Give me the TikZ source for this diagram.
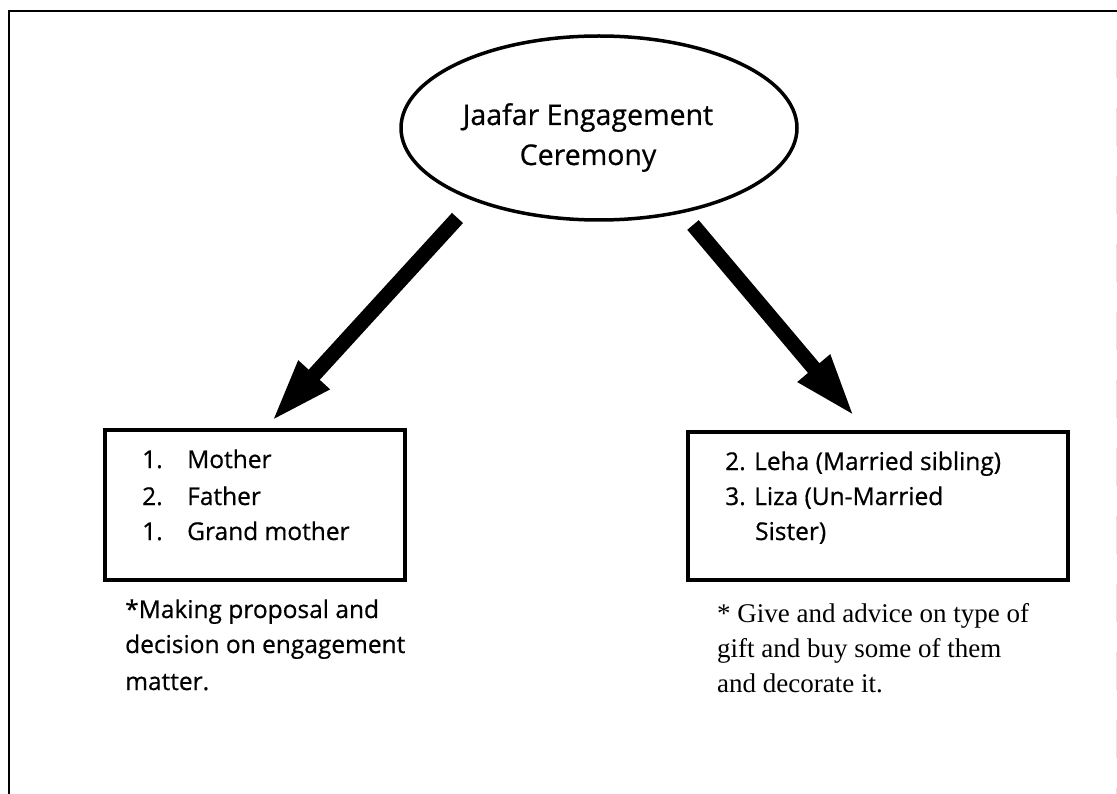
\documentclass[tikz,border=0pt]{standalone}
\usepackage{fontspec}
\setmainfont{Liberation Serif}
\newfontfamily\casual[FakeBold=0.6]{Open Sans}
\usetikzlibrary{shapes.geometric,arrows.meta}
\begin{document}
\begin{tikzpicture}[x=1pt,y=-1pt,
  frame/.style={line width=2.5pt},
  boxline/.style={draw, line width=3.5pt, rectangle, inner sep=0pt},
  bigarrow/.style={line width=15pt, line cap=butt,
    -{Triangle[length=64pt,width=38pt]}},
  title/.style={font=\casual\fontsize{28.5}{34}\selectfont, inner sep=0pt},
  item/.style={font=\casual\fontsize{24.5}{30}\selectfont, inner sep=0pt, anchor=base west},
  note/.style={font=\fontsize{27}{32}\selectfont, inner sep=0pt, anchor=base west}]
\useasboundingbox (0,0) rectangle (1117,794);
\fill[white] (0,0) rectangle (1117,794);

% page frame
\draw[frame] (9,794) -- (9,11) -- (1117,11);
\draw[gray!22, line width=0.8pt, dash pattern=on 38pt off 30pt] (1116,40) -- (1116,794);

% central ellipse
\node[draw, ellipse, line width=3.5pt, minimum width=396pt, minimum height=184pt] (cer) at (599,128) {};
\node[title, anchor=base] (cer1) at (588,125) {Jaafar Engagement};
\node[title, anchor=base] (cer2) at (588,165) {Ceremony};

% boxes
\node[boxline, minimum width=300pt, minimum height=150pt, anchor=north west] (lbox) at (103,428) {};
\node[boxline, minimum width=380pt, minimum height=148pt, anchor=north west] (rbox) at (686,430) {};

% arrows
\coordinate (la) at (457.5,218);
\coordinate (lb) at (271,422);
\coordinate (ra) at (693,225);
\coordinate (rb) at (855,417);
\draw[bigarrow] (la) -- (lb);
\draw[bigarrow] (ra) -- (rb);

% left list
\node[item] (n1) at (142,468) {1.};
\node[item] (t1) at (187,468) {Mother};
\node[item] (n2) at (142,505) {2.};
\node[item] (t2) at (187,505) {Father};
\node[item] (n3) at (142,540) {1.};
\node[item] (t3) at (187,540) {Grand mother};

% right list
\node[item] (r1) at (725,470) {2. Leha (Married sibling)};
\node[item] (r2) at (725,505) {3. Liza (Un-Married};
\node[item] (r3) at (755,540) {Sister)};

% notes
\node[item] (ln1) at (125,618) {*Making proposal and};
\node[item] (ln2) at (125,653) {decision on engagement};
\node[item] (ln3) at (125,690) {matter.};
\node[note] (rn1) at (717,622) {* Give and advice on type of};
\node[note] (rn2) at (717,657) {gift and buy some of them};
\node[note] (rn3) at (717,692) {and decorate it.};
\end{tikzpicture}
\end{document}
